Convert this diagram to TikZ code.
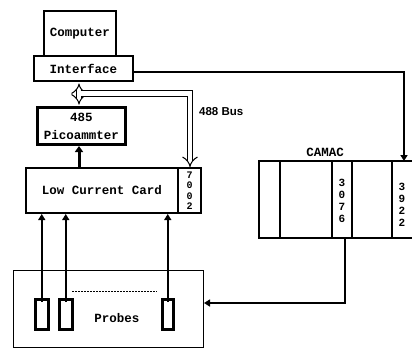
\documentclass[tikz,border=0pt]{standalone}
\usepackage{fontspec}
\newfontfamily\lblfont{Liberation Mono}
\newfontfamily\busfont{Liberation Sans}
\usetikzlibrary{arrows.meta}
\begin{document}
\begin{tikzpicture}[x=1pt,y=-1pt,
  lbl/.style={font=\lblfont\bfseries\fontsize{12.5}{15}\selectfont},
  box/.style={draw, line width=2pt, anchor=north west, inner sep=0pt, lbl},
  thickbox/.style={box, line width=3pt},
  probe/.style={draw, line width=2.5pt, anchor=north west, inner sep=0pt},
  conn/.style={line width=2pt, -{Triangle[length=6pt,width=7pt]}},
  bus/.style={double, double distance=4.5pt, line width=1pt},
  digits/.style={lbl, align=center, inner sep=0pt}]
\useasboundingbox (0,0) rectangle (412,349);
% Computer and Interface
\node[box, minimum width=72pt, minimum height=45pt] (comp) at (43,10) {Computer};
\node[box, minimum width=99pt, minimum height=25pt] (iface) at (33,55) {Interface};
% Picoammeter
\node[thickbox, minimum width=88pt, minimum height=37pt, align=center] (pico) at (36,106) {485\\[3pt]Picoammter};
% Low current card
\node[box, minimum width=152pt, minimum height=45pt] (lcc) at (25,167) {Low Current Card};
\node[box, minimum width=23pt, minimum height=45pt] (c7002) at (177,167) {};
\node[digits, font=\lblfont\bfseries\fontsize{10}{10.5}\selectfont] (t7002) at (c7002.center) {7\\0\\0\\2};
% bus
\draw[bus, {Implies}-{Implies}] (iface.south -| 79,0) ++(0,1.5) coordinate (b1) -- (79,104.5) coordinate (b2);
\coordinate (bj) at (80.5,93.5);
\coordinate (bc) at (190,93.5);
\draw[bus, -{Implies}] (bj) -- (bc) -- (bc |- c7002.north);
\node[font=\busfont\bfseries\fontsize{11.5}{13}\selectfont, anchor=west, inner sep=0pt] (busl) at (199,112) {488 Bus};
% picoammeter arrow
\draw[line width=3pt, -{Triangle[length=6pt,width=8pt]}] (lcc.north -| 79,0) -- (pico.south -| 79,0);
% CAMAC
\coordinate (cnw) at (259,161);
\coordinate (csw) at (259,238);
\draw[line width=2pt] (414,161) -- (cnw) -- (csw) -- (414,238);
\draw[line width=2pt] (280,161) -- (280,238);
\draw[line width=2pt] (332,161) -- (332,238);
\draw[line width=2pt] (352,161) -- (352,238);
\draw[line width=2pt] (392,161) -- (392,238);
\node[lbl, inner sep=0pt] (camac) at (325,152) {CAMAC};
\node[digits, font=\lblfont\bfseries\fontsize{11}{12}\selectfont] (t3076) at (342,201) {3\\0\\7\\6};
\node[digits, font=\lblfont\bfseries\fontsize{11}{12}\selectfont] (t3922) at (402,205) {3\\9\\2\\2};
% Probes
\node[draw, line width=1pt, anchor=north west, minimum width=190pt, minimum height=77pt, inner sep=0pt] (probes) at (13,270) {};
\node[lbl, inner sep=0pt] (ptext) at (117,318) {Probes};
\node[probe, minimum width=13pt, minimum height=30pt] (p1) at (34,298) {};
\node[probe, minimum width=13pt, minimum height=30pt] (p2) at (58,298) {};
\node[probe, minimum width=11pt, minimum height=30pt] (p3) at (161,298) {};
\draw[line width=1pt, dashed, dash pattern=on 2pt off 1pt] (72,291) coordinate (d1) -- (157,291) coordinate (d2);
\draw[conn] (p1.north) ++(0,4) -- (p1.north |- lcc.south);
\draw[conn] (p2.north) ++(0,4) -- (p2.north |- lcc.south);
\draw[conn] (p3.north) ++(0,4) -- (p3.north |- lcc.south);
% Interface to CAMAC
\coordinate (ic) at (404,72);
\draw[conn] (iface.east |- ic) -- (ic) -- (ic |- cnw);
% CAMAC to probes
\coordinate (cb) at (345,238);
\coordinate (cp) at (345,303);
\draw[conn] (cb) -- (cp) -- (cp -| probes.east);
\end{tikzpicture}
\end{document}
